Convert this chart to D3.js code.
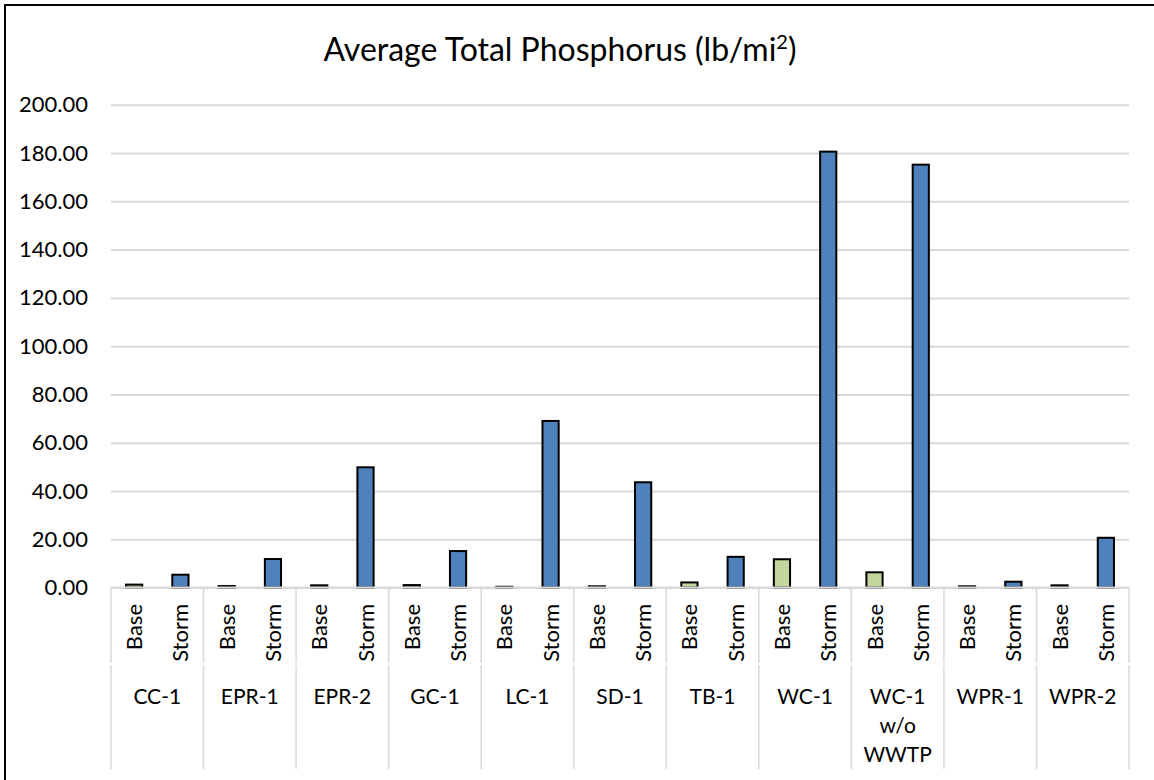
<!DOCTYPE html>
<html>
<head>
<meta charset="utf-8">
<script src="https://cdn.jsdelivr.net/npm/d3@7"></script>
<style>
  html, body { margin: 0; padding: 0; background: #fff; }
  svg { display: block; font-family: Lato, "Open Sans", sans-serif; }
</style>
</head>
<body>
<script>
(function (d3) {
  "use strict";

  /***** Data *****/
  var sites = ["CC-1", "EPR-1", "EPR-2", "GC-1", "LC-1", "SD-1", "TB-1", "WC-1", "WC-1 w/o WWTP", "WPR-1", "WPR-2"];
  var siteLabelLines = [["CC-1"], ["EPR-1"], ["EPR-2"], ["GC-1"], ["LC-1"], ["SD-1"], ["TB-1"], ["WC-1"], ["WC-1", "w/o", "WWTP"], ["WPR-1"], ["WPR-2"]];
  var flowTypes = ["Base", "Storm"];
  var baseValues = [1.2, 0.6, 0.9, 1.0, 0.3, 0.5, 2.1, 11.7, 6.3, 0.5, 0.9];
  var stormValues = [5.3, 11.8, 49.8, 15.1, 69.0, 43.6, 12.7, 180.6, 175.2, 2.4, 20.6];
  var yTicks = [0, 20, 40, 60, 80, 100, 120, 140, 160, 180, 200];

  /***** Configuration *****/
  var width = 1154, height = 780;
  var plot = { left: 111, right: 1129, top: 104.8, bottom: 587.5 };
  var colors = { Base: "#c3d69b", Storm: "#4f81bd" };

  var svg = d3.select("body").append("svg")
      .attr("width", width)
      .attr("height", height);

  // chart border
  svg.append("rect")
      .attr("x", 5).attr("y", 5)
      .attr("width", width + 20).attr("height", height + 20)
      .attr("fill", "#fff")
      .attr("stroke", "#000")
      .attr("stroke-width", 2);

  /***** Scales *****/
  var x0 = d3.scaleBand().domain(sites).range([plot.left, plot.right]);
  var x1 = d3.scaleBand().domain(flowTypes).range([0, x0.bandwidth()]);
  var y = d3.scaleLinear().domain([0, 200]).range([plot.bottom, plot.top]);
  var barWidth = x1.bandwidth() * 0.35;

  /***** Title *****/
  var title = svg.append("text")
      .attr("x", 560).attr("y", 61)
      .attr("text-anchor", "middle")
      .attr("font-size", 32)
      .attr("fill", "#000");
  title.append("tspan").text("Average Total Phosphorus (lb/mi");
  title.append("tspan").attr("font-size", 20).attr("dy", -12).text("2");
  title.append("tspan").attr("dy", 12).text(")");

  /***** Grid and y axis *****/
  var yAxis = d3.axisLeft(y).tickValues(yTicks)
      .tickSize(-(plot.right - plot.left))
      .tickPadding(23)
      .tickFormat(d3.format(".2f"));

  var yAxisGroup = svg.append("g")
      .attr("transform", "translate(" + plot.left + ",0)")
      .call(yAxis);
  yAxisGroup.select(".domain").remove();
  yAxisGroup.selectAll(".tick line").attr("stroke", "#d9d9d9").attr("stroke-width", 2);
  yAxisGroup.selectAll(".tick text")
      .attr("font-size", 22)
      .attr("font-family", "Lato, 'Open Sans', sans-serif")
      .attr("fill", "#000");

  /***** Bars *****/
  var rows = [];
  sites.forEach(function (s, i) {
    rows.push({ site: s, type: "Base", value: baseValues[i] });
    rows.push({ site: s, type: "Storm", value: stormValues[i] });
  });

  svg.append("g").selectAll("rect")
      .data(rows)
      .join("rect")
      .attr("x", function (d) { return x0(d.site) + x1(d.type) + (x1.bandwidth() - barWidth) / 2; })
      .attr("y", function (d) { return y(d.value); })
      .attr("width", barWidth)
      .attr("height", function (d) { return y(0) - y(d.value); })
      .attr("fill", function (d) { return colors[d.type]; })
      .attr("stroke", "#000")
      .attr("stroke-width", 2);

  /***** Category axis *****/
  var axisGroup = svg.append("g");
  axisGroup.append("line")
      .attr("x1", plot.left).attr("x2", plot.right)
      .attr("y1", y(0)).attr("y2", y(0))
      .attr("stroke", "#d9d9d9").attr("stroke-width", 2);

  var bounds = sites.map(function (s) { return x0(s); }).concat([plot.right]);
  axisGroup.selectAll(".inner-sep")
      .data(bounds)
      .join("line")
      .attr("class", "inner-sep")
      .attr("x1", function (d) { return d; }).attr("x2", function (d) { return d; })
      .attr("y1", y(0)).attr("y2", 663)
      .attr("stroke", "#d9d9d9").attr("stroke-width", 1.5);
  axisGroup.selectAll(".outer-sep")
      .data(bounds)
      .join("line")
      .attr("class", "outer-sep")
      .attr("x1", function (d) { return d; }).attr("x2", function (d) { return d; })
      .attr("y1", 665).attr("y2", 769)
      .attr("stroke", "#d9d9d9").attr("stroke-width", 1.5);

  // rotated Base / Storm labels
  axisGroup.selectAll(".flow-label")
      .data(rows)
      .join("text")
      .attr("class", "flow-label")
      .attr("transform", function (d) {
        var cx = x0(d.site) + x1(d.type) + x1.bandwidth() / 2;
        return "translate(" + (cx + 8) + ",604) rotate(-90)";
      })
      .attr("text-anchor", "end")
      .attr("font-size", 22)
      .attr("fill", "#000")
      .text(function (d) { return d.type; });

  // site labels
  axisGroup.selectAll(".site-label")
      .data(sites)
      .join("text")
      .attr("class", "site-label")
      .attr("x", function (d) { return x0(d) + x0.bandwidth() / 2; })
      .attr("y", 704)
      .attr("text-anchor", "middle")
      .attr("font-size", 21)
      .attr("fill", "#000")
      .each(function (d, i) {
        var t = d3.select(this);
        siteLabelLines[i].forEach(function (line, j) {
          t.append("tspan")
              .attr("x", x0(d) + x0.bandwidth() / 2)
              .attr("dy", j === 0 ? 0 : 29)
              .text(line);
        });
      });

})(d3);
</script>
</body>
</html>
